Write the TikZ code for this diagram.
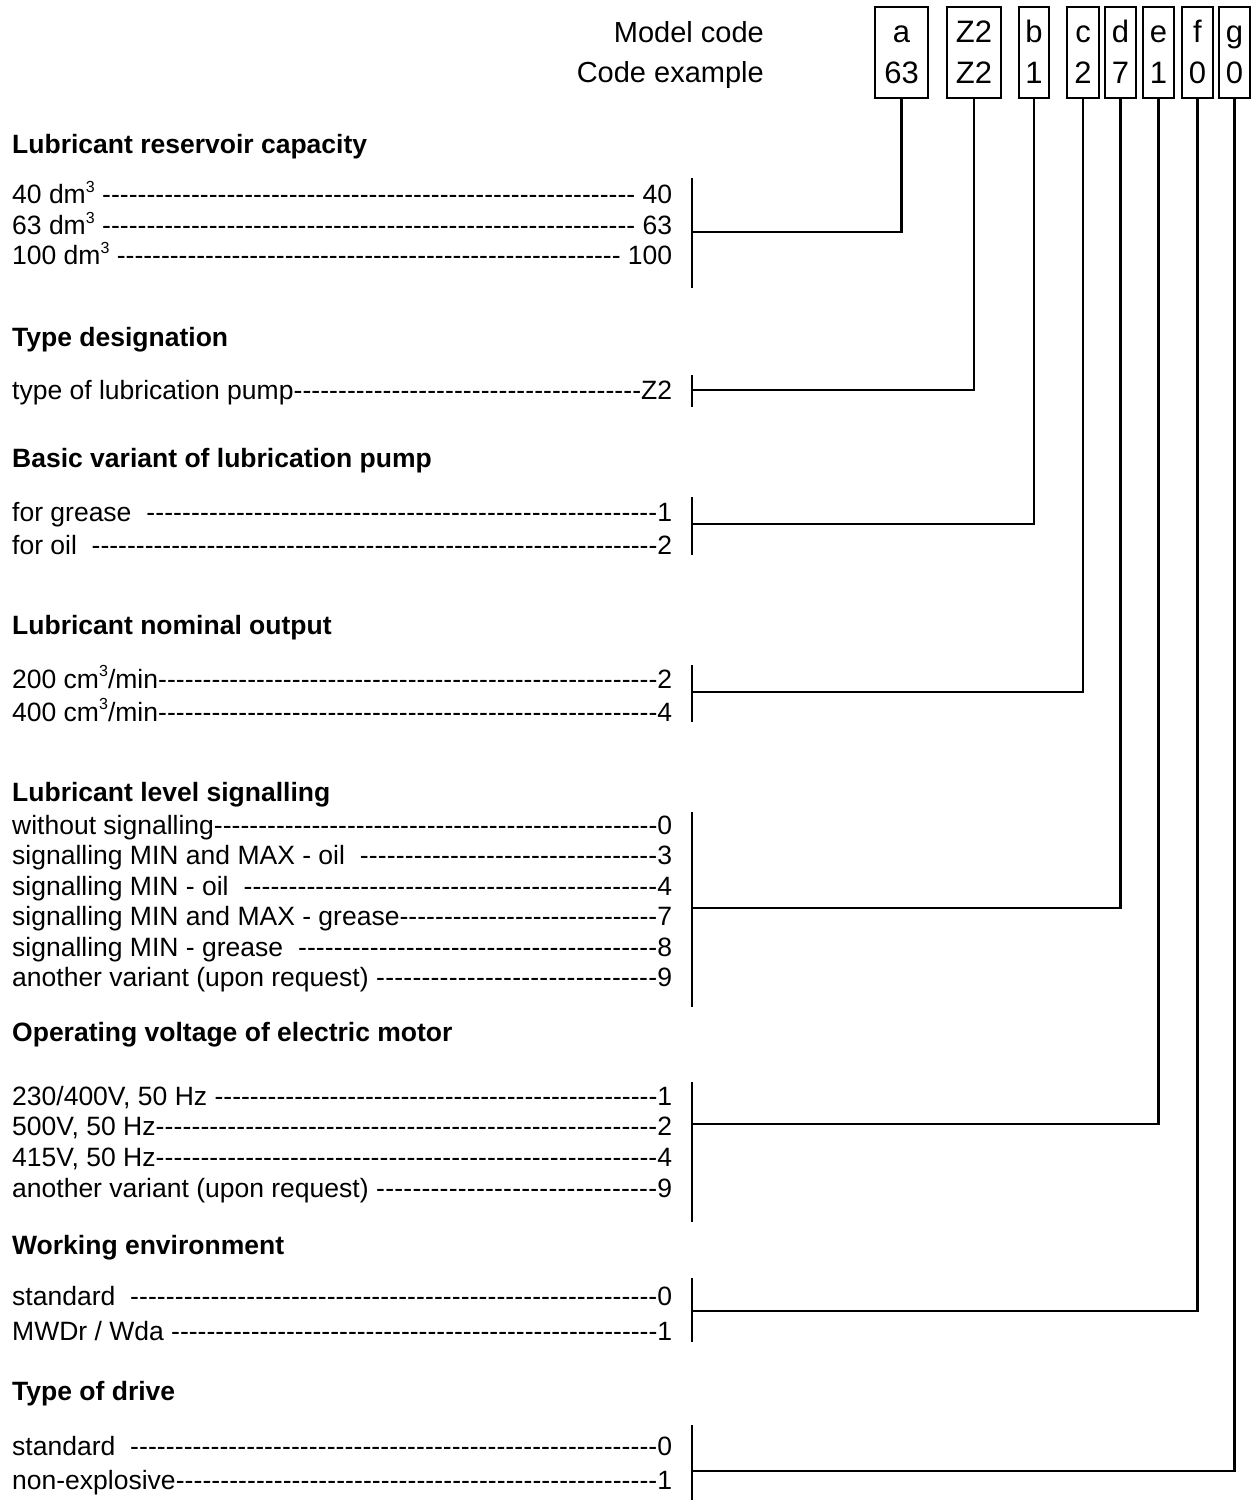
\documentclass[tikz,border=0pt]{standalone}
\usepackage{fontspec}
\setmainfont{Liberation Sans}
\newcommand\rowline[2]{\hbox to 660pt{#1\xleaders\hbox{-}\hfill#2}}
\newcommand\cubed{\raisebox{0.42em}{\fontsize{16}{16}\selectfont 3}}
\begin{document}
\begin{tikzpicture}[x=1pt,y=-1pt,
  row/.style={anchor=base west, inner sep=0pt, font=\fontsize{26.5}{30}\selectfont},
  head/.style={anchor=base west, inner sep=0pt, font=\fontsize{26.5}{30}\selectfont\bfseries},
  hdr/.style={anchor=base east, inner sep=0pt, font=\fontsize{29}{34}\selectfont},
  codebox/.style={draw, line width=1.8pt, minimum height=91pt, inner sep=0pt},
  boxtxt/.style={anchor=base, inner sep=0pt, font=\fontsize{31}{34}\selectfont},
  link/.style={draw, line width=2.4pt},
]
\useasboundingbox (0,0) rectangle (1253,1506);

% header
\node[hdr] (mc) at (764,43) {Model code};
\node[hdr] (ce) at (764,83) {Code example};

% code boxes
\node[codebox, minimum width=53pt] (ba) at (901.5,52.5) {};
\node[codebox, minimum width=54pt] (bz) at (974,52.5) {};
\node[codebox, minimum width=30pt] (bb) at (1034,52.5) {};
\node[codebox, minimum width=32pt] (bc) at (1083,52.5) {};
\node[codebox, minimum width=31pt] (bd) at (1120.5,52.5) {};
\node[codebox, minimum width=31pt] (be) at (1158.5,52.5) {};
\node[codebox, minimum width=31pt] (bf) at (1197.5,52.5) {};
\node[codebox, minimum width=31pt] (bg) at (1234.5,52.5) {};

\node[boxtxt] (ta1) at (901.5,43) {a};   \node[boxtxt] (ta2) at (901.5,84) {63};
\node[boxtxt] (tz1) at (974,43) {Z2};    \node[boxtxt] (tz2) at (974,84) {Z2};
\node[boxtxt] (tb1) at (1034,43) {b};    \node[boxtxt] (tb2) at (1034,84) {1};
\node[boxtxt] (tc1) at (1083,43) {c};    \node[boxtxt] (tc2) at (1083,84) {2};
\node[boxtxt] (td1) at (1120.5,43) {d};  \node[boxtxt] (td2) at (1120.5,84) {7};
\node[boxtxt] (te1) at (1158.5,43) {e};  \node[boxtxt] (te2) at (1158.5,84) {1};
\node[boxtxt] (tf1) at (1197.5,43) {f};  \node[boxtxt] (tf2) at (1197.5,84) {0};
\node[boxtxt] (tg1) at (1234.5,43) {g};  \node[boxtxt] (tg2) at (1234.5,84) {0};

% group a
\node[head] (hA) at (12,154) {Lubricant reservoir capacity};
\node[row] (a1) at (12,204) {\rowline{40 dm\cubed\ }{\ 40}};
\node[row] (a2) at (12,235) {\rowline{63 dm\cubed\ }{\ 63}};
\node[row] (a3) at (12,265) {\rowline{100 dm\cubed\ }{\ 100}};

% group z
\node[head] (hZ) at (12,346) {Type designation};
\node[row] (z1) at (12,399) {\rowline{type of lubrication pump}{Z2}};

% group b
\node[head] (hB) at (12,467) {Basic variant of lubrication pump};
\node[row] (b1) at (12,521) {\rowline{for grease\ \ }{1}};
\node[row] (b2) at (12,554) {\rowline{for oil\ \ }{2}};

% group c
\node[head] (hC) at (12,634) {Lubricant nominal output};
\node[row] (c1) at (12,688) {\rowline{200 cm\cubed/min}{2}};
\node[row] (c2) at (12,721) {\rowline{400 cm\cubed/min}{4}};

% group d
\node[head] (hD) at (12,801) {Lubricant level signalling};
\node[row] (d1) at (12,834) {\rowline{without signalling}{0}};
\node[row] (d2) at (12,864) {\rowline{signalling MIN and MAX - oil\ \ }{3}};
\node[row] (d3) at (12,895) {\rowline{signalling MIN - oil\ \ }{4}};
\node[row] (d4) at (12,925) {\rowline{signalling MIN and MAX - grease}{7}};
\node[row] (d5) at (12,956) {\rowline{signalling MIN - grease\ \ }{8}};
\node[row] (d6) at (12,986) {\rowline{another variant (upon request)\ }{9}};

% group e
\node[head] (hE) at (12,1041) {Operating voltage of electric motor};
\node[row] (e1) at (12,1105) {\rowline{230/400V, 50 Hz\ }{1}};
\node[row] (e2) at (12,1135) {\rowline{500V, 50 Hz}{2}};
\node[row] (e3) at (12,1166) {\rowline{415V, 50 Hz}{4}};
\node[row] (e4) at (12,1197) {\rowline{another variant (upon request)\ }{9}};

% group f
\node[head] (hF) at (12,1254) {Working environment};
\node[row] (f1) at (12,1305) {\rowline{standard\ \ }{0}};
\node[row] (f2) at (12,1340) {\rowline{MWDr / Wda\ }{1}};

% group g
\node[head] (hG) at (12,1400) {Type of drive};
\node[row] (g1) at (12,1455) {\rowline{standard\ \ }{0}};
\node[row] (g2) at (12,1489) {\rowline{non-explosive}{1}};

% bracket coordinates
\coordinate (sA) at (692,178);  \coordinate (eA) at (692,288);  \coordinate (jA) at (692,232);
\coordinate (sZ) at (692,375);  \coordinate (eZ) at (692,407);  \coordinate (jZ) at (692,390);
\coordinate (sB) at (692,497);  \coordinate (eB) at (692,555);  \coordinate (jB) at (692,524);
\coordinate (sC) at (692,665);  \coordinate (eC) at (692,722);  \coordinate (jC) at (692,692);
\coordinate (sD) at (692,812);  \coordinate (eD) at (692,1007); \coordinate (jD) at (692,908);
\coordinate (sE) at (692,1082); \coordinate (eE) at (692,1222); \coordinate (jE) at (692,1124);
\coordinate (sF) at (692,1278); \coordinate (eF) at (692,1342); \coordinate (jF) at (692,1311);
\coordinate (sG) at (692,1425); \coordinate (eG) at (692,1500); \coordinate (jG) at (692,1471);

% brackets
\foreach \g in {A,Z,B,C,D,E,F,G} \draw[link] (s\g) -- (e\g);

% connectors
\draw[link] (ba.south) |- (jA);
\draw[link] (bz.south) |- (jZ);
\draw[link] (bb.south) |- (jB);
\draw[link] (bc.south) |- (jC);
\draw[link] (bd.south) |- (jD);
\draw[link] (be.south) |- (jE);
\draw[link] (bf.south) |- (jF);
\draw[link] (bg.south) |- (jG);
\end{tikzpicture}
\end{document}
